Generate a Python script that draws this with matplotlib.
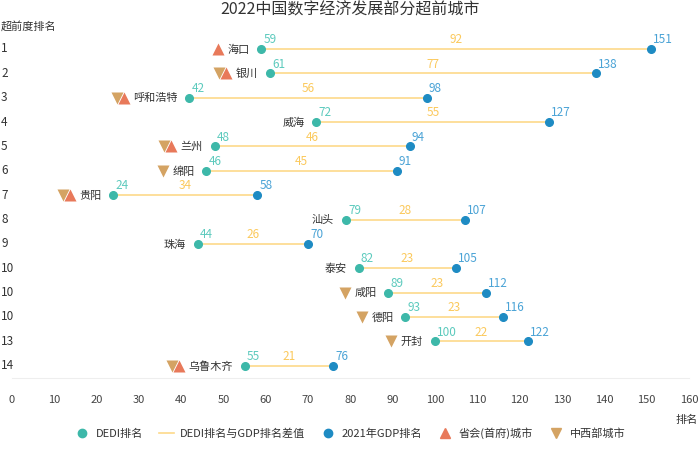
import matplotlib

matplotlib.use('Agg')
import matplotlib.pyplot as plt
from matplotlib.lines import Line2D
import matplotlib.transforms as mtransforms

plt.rcParams['font.family'] = ['Noto Sans CJK SC', 'DejaVu Sans']

# -----------------------------
# Ma'lumotlar
# -----------------------------
cities = ["海口", "银川", "呼和浩特", "威海", "兰州", "绵阳", "贵阳",
          "汕头", "珠海", "泰安", "咸阳", "德阳", "开封", "乌鲁木齐"]
ahead_rank = ["1", "2", "3", "4", "5", "6", "7", "8", "9", "10", "10", "10", "13", "14"]
dedi_rank = [59, 61, 42, 72, 48, 46, 24, 79, 44, 82, 89, 93, 100, 55]
gdp_rank = [151, 138, 98, 127, 94, 91, 58, 107, 70, 105, 112, 116, 122, 76]
rank_diff = [92, 77, 56, 55, 46, 45, 34, 28, 26, 23, 23, 23, 22, 21]
is_capital = [True, True, True, False, True, False, True, False, False, False, False, False, False, True]
is_midwest = [False, True, True, False, True, True, True, False, False, False, True, True, True, True]

C_DEDI = "#3db8a9"
C_DEDI_TXT = "#5ccabd"
C_GDP = "#1e8bc3"
C_GDP_TXT = "#4aa3d6"
C_LINE = "#fdd98a"
C_DIFF_TXT = "#fbc95c"
C_CAP = "#e8795a"
C_MID = "#d4a363"
C_TEXT = "#333333"

W, H = 700, 462
fig = plt.figure(figsize=(7, 4.62), dpi=100)
ax_left, ax_right = 11.7, 689
ax_top, ax_bot = 36.8, 377.9
ax = fig.add_axes([ax_left / W, (H - ax_bot) / H, (ax_right - ax_left) / W, (ax_bot - ax_top) / H])

ax.set_xlim(0, 160)
ax.set_ylim(len(cities) - 0.5, -0.5)

px_per_unit = (ax_right - ax_left) / 160
fs = 8
char_px = fs * 100 / 72

for i in range(len(cities)):
    d, g = dedi_rank[i], gdp_rank[i]
    ax.plot([d, g], [i, i], color=C_LINE, lw=1.2, zorder=1)
    ax.plot(d, i, 'o', ms=5.5, color=C_DEDI, zorder=3)
    ax.plot(g, i, 'o', ms=5.5, color=C_GDP, zorder=3)

    ax.annotate(str(d), (d, i), xytext=(1.5, 2), textcoords='offset points',
                ha='left', va='bottom', fontsize=8.5, color=C_DEDI_TXT)
    ax.annotate(str(g), (g, i), xytext=(1.5, 2), textcoords='offset points',
                ha='left', va='bottom', fontsize=8.5, color=C_GDP_TXT)
    ax.annotate(str(rank_diff[i]), ((d + g) / 2, i), xytext=(0, 2), textcoords='offset points',
                ha='center', va='bottom', fontsize=8.5, color=C_DIFF_TXT)

    # shahar nomi
    ax.annotate(cities[i], (d, i), xytext=(-8.5, -0.5), textcoords='offset points',
                ha='right', va='center', fontsize=fs, color=C_TEXT)

    # belgilar
    name_px = len(cities[i]) * char_px
    tri_x = d - (12 + name_px + 9.5) / px_per_unit
    if is_capital[i]:
        ax.plot(tri_x, i, '^', ms=8, color=C_CAP, mec='none', zorder=3)
        if is_midwest[i]:
            ax.plot(tri_x - 7 / px_per_unit, i, 'v', ms=8, color=C_MID, mec='none', zorder=2)
    elif is_midwest[i]:
        ax.plot(tri_x, i, 'v', ms=8, color=C_MID, mec='none', zorder=3)

# Y-o'q belgilari
trans = mtransforms.blended_transform_factory(fig.transFigure, ax.transData)
for i, lab in enumerate(ahead_rank):
    ax.text(1 / W, i, lab, transform=trans, ha='left', va='center', fontsize=8.5, color=C_TEXT)
fig.text(1 / W, 1 - 26 / H, "超前度排名", ha='left', va='center', fontsize=fs, color=C_TEXT)

ax.set_yticks([])
ax.set_xticks(range(0, 161, 10))
ax.tick_params(axis='x', length=0, pad=12, labelsize=8, labelcolor='#444444')
for s in ['top', 'right', 'left']:
    ax.spines[s].set_visible(False)
ax.spines['bottom'].set_color('#eeeeee')

fig.text(698 / W, 1 - 420 / H, "排名", ha='right', va='center', fontsize=fs, color=C_TEXT)
fig.text(0.5, 1 - 10 / H, "2022中国数字经济发展部分超前城市", ha='center', va='center',
         fontsize=11.5, color=C_TEXT, fontweight='medium')

handles = [
    Line2D([], [], ls='none', marker='o', ms=6, color=C_DEDI, label='DEDI排名'),
    Line2D([], [], color=C_LINE, lw=1.2, label='DEDI排名与GDP排名差值'),
    Line2D([], [], ls='none', marker='o', ms=6, color=C_GDP, label='2021年GDP排名'),
    Line2D([], [], ls='none', marker='^', ms=7.5, color=C_CAP, label='省会(首府)城市'),
    Line2D([], [], ls='none', marker='v', ms=7.5, color=C_MID, label='中西部城市'),
]
leg = fig.legend(handles=handles, loc='center', bbox_to_anchor=(0.5, 1 - 433 / H), ncol=5,
                 frameon=False, fontsize=fs, handlelength=1.4, columnspacing=1.4, handletextpad=0.5)
for t in leg.get_texts():
    t.set_color(C_TEXT)

fig.savefig('out.png', dpi=100)
